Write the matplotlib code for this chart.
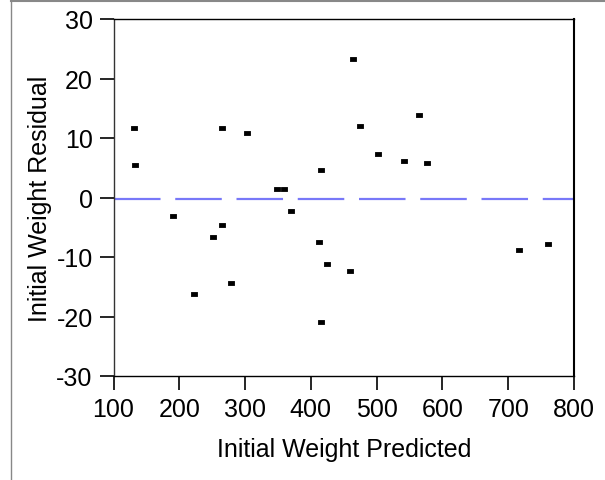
import numpy as np
import matplotlib
matplotlib.use('Agg')
import matplotlib.pyplot as plt
from matplotlib.lines import Line2D

plt.rcParams.update({
    'font.family': ['Liberation Sans', 'DejaVu Sans'],
    'font.size': 18,
    'lines.scale_dashes': False,
    'axes.unicode_minus': False,
})

# residuals vs predicted initial weight
predicted = [131, 132, 191, 222, 251, 265, 265, 278, 303, 348, 359, 370,
             412, 415, 415, 425, 459, 464, 474, 502, 541, 565, 576, 716, 761]
residual = [11.6, 5.4, -3.1, -16.3, -6.6, 11.6, -4.7, -14.3, 10.8, 1.5, 1.5, -2.3,
            -7.4, 4.6, -20.9, -11.2, -12.4, 23.2, 12.0, 7.3, 6.1, 13.9, 5.8, -8.9, -7.8]
mean_residual = -0.3

x_ticks = [100, 200, 300, 400, 500, 600, 700, 800]
y_ticks = [-30, -20, -10, 0, 10, 20, 30]

W, H = 605, 481
fig = plt.figure(figsize=(W / 100, H / 100), dpi=100)
ax = fig.add_axes([113.5 / W, (H - 377) / H, (574 - 113.5) / W, (377 - 20) / H])

# reference line at the mean residual
ax.axhline(mean_residual, color='#7878f8', linewidth=1.6, dashes=(33.5, 10.6), zorder=1)

# small filled rectangles as markers
rect = [(-1, -0.64), (1, -0.64), (1, 0.64), (-1, 0.64), (-1, -0.64)]
ax.plot(predicted, residual, linestyle='none', marker=rect, markersize=4.9,
        color='black', markeredgecolor='black', markeredgewidth=0.6, zorder=3)

ax.set_xlim(100, 800)
ax.set_ylim(-30, 30)
ax.set_xticks(x_ticks)
ax.set_yticks(y_ticks)
ax.tick_params(direction='out', length=10, width=1.2, labelsize=18, pad=5,
               top=False, right=False)
for side in ['left', 'bottom', 'top']:
    ax.spines[side].set_linewidth(1.0)
ax.spines['right'].set_linewidth(1.5)
ax.spines['left'].set_color('#333333')

ax.set_xlabel('Initial Weight Predicted', fontsize=18, labelpad=12)
ax.set_ylabel('Initial Weight Residual', fontsize=18, labelpad=3)

# thin gray frame along the top and left edges of the figure
fig.add_artist(Line2D([10.5 / W, 1], [1 - 2 / H, 1 - 2 / H], transform=fig.transFigure,
                      color='#888888', linewidth=1.5))
fig.add_artist(Line2D([10.5 / W, 10.5 / W], [0, 1 - 2 / H], transform=fig.transFigure,
                      color='#888888', linewidth=1.0))

fig.savefig('out.png', dpi=100, facecolor='white')
